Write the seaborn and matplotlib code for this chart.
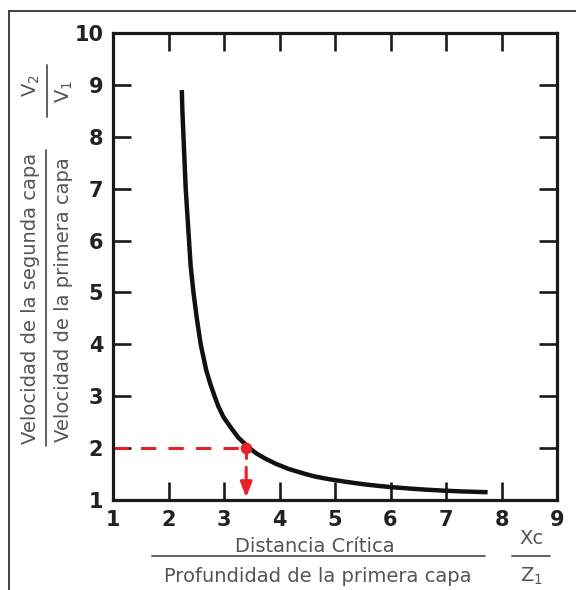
import numpy as np
import pandas as pd
import matplotlib
matplotlib.use('Agg')
import matplotlib.pyplot as plt
from matplotlib.lines import Line2D
import seaborn as sns

# 곡선 데이터
xc_z1 = [2.24, 2.25, 2.27, 2.29, 2.31, 2.34, 2.37, 2.40, 2.45, 2.51, 2.58, 2.63, 2.68, 2.75,
         2.83, 2.90, 2.99, 3.12, 3.26, 3.46, 3.58, 3.74, 3.93, 4.16, 4.47, 4.65, 4.90, 5.20,
         5.54, 5.80, 6.00, 6.35, 6.63, 6.96, 7.30, 7.75]
v2_v1 = [8.9, 8.5, 8.0, 7.5, 7.0, 6.5, 6.0, 5.5, 5.0, 4.5, 4.0, 3.75, 3.5, 3.25,
         3.0, 2.8, 2.6, 2.4, 2.2, 2.0, 1.9, 1.8, 1.7, 1.6, 1.5, 1.45, 1.4, 1.35,
         1.3, 1.27, 1.25, 1.22, 1.2, 1.18, 1.165, 1.15]
x_ticks = [1, 2, 3, 4, 5, 6, 7, 8, 9]
y_ticks = [1, 2, 3, 4, 5, 6, 7, 8, 9, 10]

# 예시 지점
pt_x = 3.4
pt_y = 2.0

df = pd.DataFrame({'x': xc_z1, 'y': v2_v1})

sns.set_style('white')
plt.rcParams['font.family'] = ['DejaVu Sans']

W, H = 576, 590
fig = plt.figure(figsize=(W / 100, H / 100), dpi=100)
ax = fig.add_axes([113 / W, 1 - 500 / H, (557 - 113) / W, (500 - 33) / H])

sns.lineplot(data=df, x='x', y='y', sort=False, color='#111111', lw=3.2, ax=ax,
             solid_capstyle='butt', solid_joinstyle='round')

red = '#e8202a'
# 점선
ax.plot([1, pt_x], [pt_y, pt_y], color=red, lw=2.2, dashes=(5, 4))
ax.plot([pt_x, pt_x], [pt_y, 1.8], color=red, lw=2.2)
ax.annotate('', xy=(pt_x, 1.05), xytext=(pt_x, 1.63),
            arrowprops=dict(arrowstyle='-|>,head_length=0.9,head_width=0.35', color=red, lw=2.2,
                            shrinkA=0, shrinkB=0))
sns.scatterplot(x=[pt_x], y=[pt_y], color=red, s=60, edgecolor=red, zorder=5, ax=ax)

ax.set_xlim(1, 9)
ax.set_ylim(1, 10)
ax.set_xticks(x_ticks)
ax.set_yticks(y_ticks)
ax.set_xlabel('')
ax.set_ylabel('')
for s in ax.spines.values():
    s.set_visible(True)
    s.set_linewidth(2.3)
    s.set_color('#1a1a1a')
ax.tick_params(direction='in', length=13, width=1.9, color='#1a1a1a',
               bottom=True, left=True, top=True, right=True, labelsize=15, pad=7)
for lab in ax.get_xticklabels() + ax.get_yticklabels():
    lab.set_fontweight('bold')
    lab.set_color('#222222')

# 축 라벨 (분수 형태)
gray = '#555555'
fs = 14
fig.text(315 / W, 1 - 547 / H, 'Distancia Crítica', ha='center', va='center', fontsize=fs, color=gray)
fig.text(318 / W, 1 - 577 / H, 'Profundidad de la primera capa', ha='center', va='center', fontsize=fs, color=gray)
fig.add_artist(Line2D([152 / W, 485 / W], [1 - 556 / H, 1 - 556 / H], color=gray, lw=1.3))
fig.text(531 / W, 1 - 539 / H, 'Xc', ha='center', va='center', fontsize=fs, color=gray)
fig.text(531 / W, 1 - 576 / H, 'Z$_1$', ha='center', va='center', fontsize=fs, color=gray)
fig.add_artist(Line2D([512 / W, 550 / W], [1 - 556 / H, 1 - 556 / H], color=gray, lw=1.3))

fig.text(31 / W, 1 - 298 / H, 'Velocidad de la segunda capa', rotation=90, ha='center', va='center', fontsize=fs, color=gray)
fig.text(64 / W, 1 - 300 / H, 'Velocidad de la primera capa', rotation=90, ha='center', va='center', fontsize=fs, color=gray)
fig.add_artist(Line2D([46 / W, 46 / W], [1 - 150 / H, 1 - 446 / H], color=gray, lw=1.3))
fig.text(31 / W, 1 - 86 / H, 'V$_2$', rotation=90, ha='center', va='center', fontsize=fs, color=gray)
fig.text(64 / W, 1 - 92 / H, 'V$_1$', rotation=90, ha='center', va='center', fontsize=fs, color=gray)
fig.add_artist(Line2D([47 / W, 47 / W], [1 - 65 / H, 1 - 117 / H], color=gray, lw=1.3))

# 바깥 테두리
fig.add_artist(Line2D([9 / W, 9 / W], [1 - 11 / H, 0], color='#333333', lw=1.3))
fig.add_artist(Line2D([9 / W, 1], [1 - 11 / H, 1 - 11 / H], color='#333333', lw=1.3))

fig.savefig('out.png', dpi=100)
